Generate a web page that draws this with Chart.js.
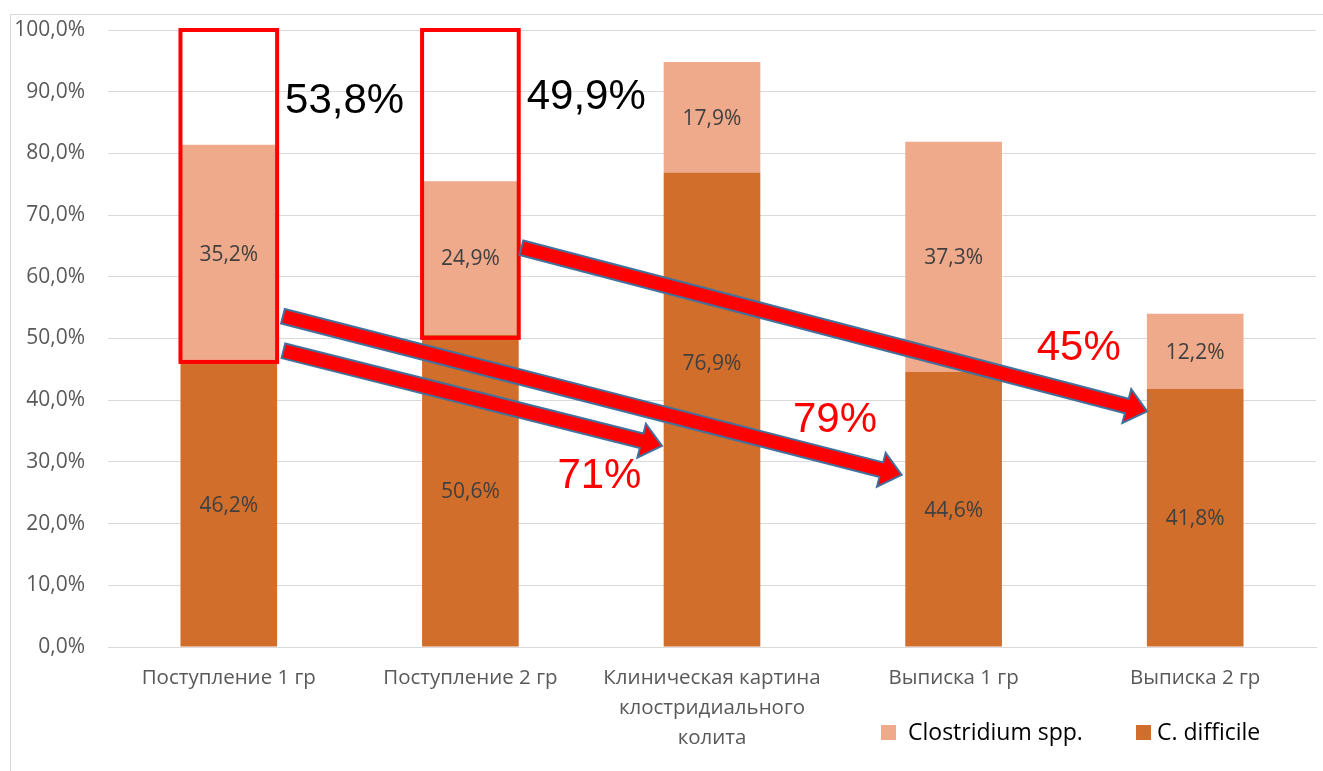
<!DOCTYPE html>
<html>
<head>
<meta charset="utf-8">
<script src="https://cdn.jsdelivr.net/npm/chart.js@4/dist/chart.umd.min.js"></script>
<style>
  html, body { margin: 0; padding: 0; background: #ffffff; }
  #wrap { width: 1323px; height: 771px; position: relative; }
</style>
</head>
<body>
<div id="wrap"><canvas id="chart" width="1323" height="771"></canvas></div>
<script>
// Categories (x axis), multi-line where the label wraps
const categories = [
  ['Поступление 1 гр'],
  ['Поступление 2 гр'],
  ['Клиническая картина', 'клостридиального', 'колита'],
  ['Выписка 1 гр'],
  ['Выписка 2 гр']
];

// Series values, percent
const cDifficile = [46.2, 50.6, 76.9, 44.6, 41.8];
const clostridiumSpp = [35.2, 24.9, 17.9, 37.3, 12.2];

// Y axis ticks
const yTicks = [0, 10, 20, 30, 40, 50, 60, 70, 80, 90, 100];

// Value-label position (percent) where a label was lifted off the arrows; null = centred
const cDifficileLabelAt = [null, null, 45.8, null, null];

// Highlighted share above C. difficile in the two admission groups
const boxCategories = [0, 1];
const boxShares = [53.8, 49.9];
const boxTextAt = [88.5, 89.1];

// Transition arrows: [category, offset in category widths, value %]
const arrowTails = [[0, 0.224, 53.6], [0, 0.226, 48.0], [1, 0.211, 64.7]];
const arrowTips = [[3, -0.215, 27.9], [2, -0.207, 32.6], [4, -0.199, 38.2]];

// Transition rates and their anchor [category, offset, value %]
const rateTexts = ['71%', '79%', '45%'];
const rateAnchors = [[1, 0.36, 27.6], [2, 0.335, 36.8], [3, 0.344, 48.4]];

const ORANGE = '#D16E2B';
const PEACH = '#EFA98B';
const FONT = '"Open Sans", "Noto Sans", sans-serif';

const fmt = v => v.toFixed(1).replace('.', ',') + '%';

function px(chart, cat, off) {
  const x = chart.scales.x;
  const w = x.getPixelForValue(1) - x.getPixelForValue(0);
  return x.getPixelForValue(cat) + off * w;
}
function py(chart, v) { return chart.scales.y.getPixelForValue(v); }

function blockArrow(ctx, x0, y0, x1, y1) {
  const dx = x1 - x0, dy = y1 - y0;
  const len = Math.hypot(dx, dy);
  const ux = dx / len, uy = dy / len;
  const nx = -uy, ny = ux;
  const s = 7.5, h = 17.5, L = 21;
  const bx = x1 - ux * L, by = y1 - uy * L;
  ctx.beginPath();
  ctx.moveTo(x0 + nx * s, y0 + ny * s);
  ctx.lineTo(bx + nx * s, by + ny * s);
  ctx.lineTo(bx + nx * h, by + ny * h);
  ctx.lineTo(x1, y1);
  ctx.lineTo(bx - nx * h, by - ny * h);
  ctx.lineTo(bx - nx * s, by - ny * s);
  ctx.lineTo(x0 - nx * s, y0 - ny * s);
  ctx.closePath();
  ctx.fillStyle = '#FF0000';
  ctx.fill();
  ctx.lineWidth = 2;
  ctx.strokeStyle = '#41719C';
  ctx.lineJoin = 'miter';
  ctx.stroke();
}

const decorations = {
  id: 'decorations',
  beforeDraw(chart) {
    const ctx = chart.ctx;
    ctx.save();
    ctx.fillStyle = '#ffffff';
    ctx.fillRect(0, 0, chart.width, chart.height);
    ctx.strokeStyle = '#D9D9D9';
    ctx.lineWidth = 1;
    ctx.strokeRect(10.5, 14.5, chart.width + 20, chart.height + 20);
    ctx.restore();
  },
  afterDatasetsDraw(chart) {
    const ctx = chart.ctx;
    ctx.save();
    // value labels centred in each segment
    ctx.font = '21px ' + FONT;
    ctx.fillStyle = '#404040';
    ctx.textAlign = 'center';
    ctx.textBaseline = 'middle';
    chart.data.datasets.forEach((ds, di) => {
      const meta = chart.getDatasetMeta(di);
      meta.data.forEach((bar, i) => {
        const p = bar.getProps(['x', 'y', 'base'], true);
        let y = (p.y + p.base) / 2 + 1.5;
        if (di === 0 && cDifficileLabelAt[i] !== null) y = py(chart, cDifficileLabelAt[i]);
        ctx.fillText(fmt(ds.data[i]), p.x, y);
      });
    });

    // red frames over the share above C. difficile
    const meta0 = chart.getDatasetMeta(0);
    ctx.strokeStyle = '#FF0000';
    ctx.lineWidth = 4;
    boxCategories.forEach((c, k) => {
      const bar = meta0.data[c].getProps(['x', 'width'], true);
      const top = py(chart, 100);
      const bottom = py(chart, 100 - boxShares[k]);
      ctx.strokeRect(bar.x - bar.width / 2, top, bar.width, bottom - top);
    });
    ctx.font = '42px "Liberation Sans", Arial, sans-serif';
    ctx.fillStyle = '#000000';
    ctx.textAlign = 'left';
    boxCategories.forEach((c, k) => {
      const bar = meta0.data[c].getProps(['x', 'width'], true);
      const txt = boxShares[k].toFixed(1).replace('.', ',') + '%';
      ctx.fillText(txt, bar.x + bar.width / 2 + 8, py(chart, boxTextAt[k]));
    });

    // arrows
    arrowTails.forEach((t, i) => {
      const h = arrowTips[i];
      blockArrow(ctx, px(chart, t[0], t[1]), py(chart, t[2]),
                 px(chart, h[0], h[1]), py(chart, h[2]));
    });

    // transition rates
    ctx.fillStyle = '#FF0000';
    rateTexts.forEach((t, i) => {
      const a = rateAnchors[i];
      const x = px(chart, a[0], a[1]);
      const y = py(chart, a[2]);
      ctx.save();
      if (i === 2) {
        const clipBottom = py(chart, 46.2);
        ctx.beginPath();
        ctx.rect(x - 5, y - 40, 120, clipBottom - (y - 40));
        ctx.clip();
      }
      ctx.fillText(t, x, y);
      ctx.restore();
    });

    // legend
    ctx.font = '23px ' + FONT;
    ctx.textBaseline = 'middle';
    const items = [[chart.data.datasets[1], 881, 908], [chart.data.datasets[0], 1136, 1157]];
    items.forEach(([ds, x, tx]) => {
      ctx.fillStyle = ds.backgroundColor;
      ctx.fillRect(x, 725, 15, 15);
      ctx.fillStyle = '#000000';
      ctx.fillText(ds.label, tx, 733);
    });
    ctx.restore();
  }
};

new Chart(document.getElementById('chart'), {
  type: 'bar',
  data: {
    labels: categories,
    datasets: [
      { label: 'C. difficile', data: cDifficile, backgroundColor: ORANGE,
        categoryPercentage: 1, barPercentage: 0.4 },
      { label: 'Clostridium spp.', data: clostridiumSpp, backgroundColor: PEACH,
        categoryPercentage: 1, barPercentage: 0.4 }
    ]
  },
  options: {
    responsive: false,
    animation: false,
    devicePixelRatio: 1,
    layout: { padding: { left: 0, top: 30, right: 7, bottom: 0 } },
    plugins: { legend: { display: false }, tooltip: { enabled: false } },
    scales: {
      x: {
        stacked: true,
        afterFit(s) { s.height = 124; },
        grid: { display: false, drawTicks: false },
        border: { display: true, color: '#D9D9D9', width: 1 },
        ticks: { color: '#595959', font: { family: FONT, size: 20.5, lineHeight: 1.46 },
                 padding: 16, maxRotation: 0, autoSkip: false }
      },
      y: {
        stacked: true,
        min: 0, max: 100,
        afterFit(s) { s.width = 108; },
        afterBuildTicks(s) { s.ticks = yTicks.map(v => ({ value: v })); },
        grid: { color: '#D9D9D9', lineWidth: 1, drawTicks: true,
                tickLength: 23, tickColor: 'rgba(0,0,0,0)' },
        border: { display: false },
        ticks: { color: '#595959', font: { family: FONT, size: 21 }, padding: 0,
                 callback: v => fmt(v) }
      }
    }
  },
  plugins: [decorations]
});
</script>
</body>
</html>
